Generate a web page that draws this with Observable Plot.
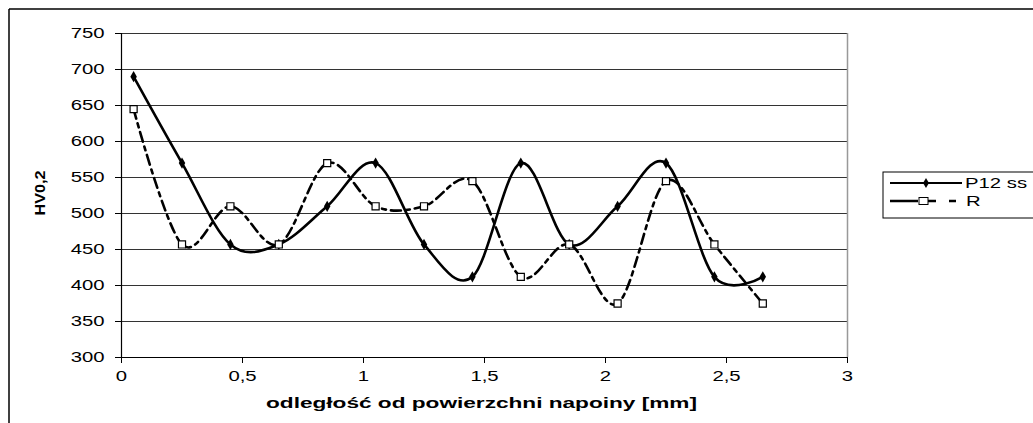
<!DOCTYPE html>
<html><head><meta charset="utf-8">
<script src="https://cdn.jsdelivr.net/npm/d3@7"></script>
<script src="https://cdn.jsdelivr.net/npm/@observablehq/plot@0.6"></script>
<style>
body{margin:0;background:#fff;font-family:"Liberation Sans",Arial,sans-serif}
</style>
</head><body><div id="chart"></div>
<script>
const distances = [0.05,0.25,0.45,0.65,0.85,1.05,1.25,1.45,1.65,1.85,2.05,2.25,2.45,2.65];
const p12ss = [690,570,457,457,510,570,457,412,570,457,510,570,412,412];
const rVals = [645,457,510,457,570,510,510,545,412,457,375,545,457,375];
const yTicks = [300,350,400,450,500,550,600,650,700,750];
const xTicks = [0,0.5,1,1.5,2,2.5,3];
const seriesNames = ["P12 ss","R"];

const dataP = distances.map((x,i)=>({x, y:p12ss[i]}));
const dataR = distances.map((x,i)=>({x, y:rVals[i]}));
const fmt = d => String(d).replace(".", ",");

const chart = Plot.plot({
  width: 1033, height: 423,
  marginLeft: 121, marginRight: 186, marginTop: 33, marginBottom: 66,
  style: {fontFamily: '"Liberation Sans", Arial, sans-serif', color: "#000", background: "#fff"},
  x: {domain: [0,3], ticks: xTicks, tickFormat: fmt, label: null},
  y: {domain: [300,750], ticks: yTicks, label: null},
  marks: [
    Plot.ruleY(yTicks.filter(d=>d>300), {stroke: "#333", strokeWidth: 1}),
    Plot.ruleX([3], {stroke: "#999", strokeWidth: 1.5}),
    Plot.axisY({ticks: yTicks, tickSize: 6, tickPadding: 11}),
    Plot.axisX({ticks: xTicks, tickFormat: fmt, tickSize: 6, tickPadding: 8}),
    Plot.ruleX([0], {stroke: "#000", strokeWidth: 1.2}),
    Plot.ruleY([300], {stroke: "#000", strokeWidth: 1.2}),
    Plot.line(dataR, {x:"x", y:"y", curve:"cardinal", stroke:"#000", strokeWidth:2.6, strokeDasharray:"10,5,4,5"}),
    Plot.line(dataP, {x:"x", y:"y", curve:"cardinal", stroke:"#000", strokeWidth:2.6}),
    Plot.dot(dataP, {x:"x", y:"y", symbol:"diamond", fill:"#000", r:3.4}),
    Plot.dot(dataR, {x:"x", y:"y", symbol:"square", fill:"#fff", stroke:"#000", strokeWidth:1.2, r:4})
  ]
});
document.getElementById("chart").appendChild(chart);

const svg = d3.select(chart);
const stretch = 1.45;
function widen(sel){
  sel.each(function(){
    const len = this.getComputedTextLength();
    if (len > 0) { this.setAttribute("textLength", len*stretch); this.setAttribute("lengthAdjust","spacingAndGlyphs"); }
  });
}
const tickTexts = svg.selectAll('g[aria-label="y-axis tick label"] text, g[aria-label="x-axis tick label"] text');
tickTexts.style("font-size","14px");
widen(tickTexts);

// outer frame
svg.append("line").attr("x1",9).attr("y1",9).attr("x2",1033).attr("y2",9).attr("stroke","#000").attr("stroke-width",1.5);
svg.append("line").attr("x1",9).attr("y1",9).attr("x2",9).attr("y2",423).attr("stroke","#000").attr("stroke-width",1.5);
// titles
svg.append("text").text("HV0,2").attr("transform","translate(45,193) rotate(-90)")
  .attr("text-anchor","middle").attr("font-weight","bold").style("font-size","14px")
  .attr("textLength",45).attr("lengthAdjust","spacingAndGlyphs");
svg.append("text").text("odległość od powierzchni napoiny [mm]").attr("x",481.5).attr("y",408)
  .attr("text-anchor","middle").attr("font-weight","bold").style("font-size","14px")
  .attr("textLength",431).attr("lengthAdjust","spacingAndGlyphs");
// legend
const lg = svg.append("g");
lg.append("rect").attr("x",883).attr("y",172).attr("width",160).attr("height",46).attr("fill","#fff").attr("stroke","#000").attr("stroke-width",1);
lg.append("line").attr("x1",890).attr("x2",962).attr("y1",183).attr("y2",183).attr("stroke","#000").attr("stroke-width",2);
lg.append("path").attr("d",d3.symbol(d3.symbolDiamond, 30)()).attr("transform","translate(926,183)").attr("fill","#000");
lg.append("path").attr("d","M890,201H918M928,201H936M949,201H956").attr("stroke","#000").attr("stroke-width",2.6).attr("fill","none");
lg.append("rect").attr("x",919).attr("y",197.5).attr("width",9).attr("height",7).attr("fill","#fff").attr("stroke","#000").attr("stroke-width",1);
const lt = [
  lg.append("text").text(seriesNames[0]).attr("x",965).attr("y",188),
  lg.append("text").text(seriesNames[1]).attr("x",966).attr("y",206)
];
lt.forEach(t => { t.style("font-size","14px").attr("text-anchor","start"); widen(t); });
</script></body></html>
